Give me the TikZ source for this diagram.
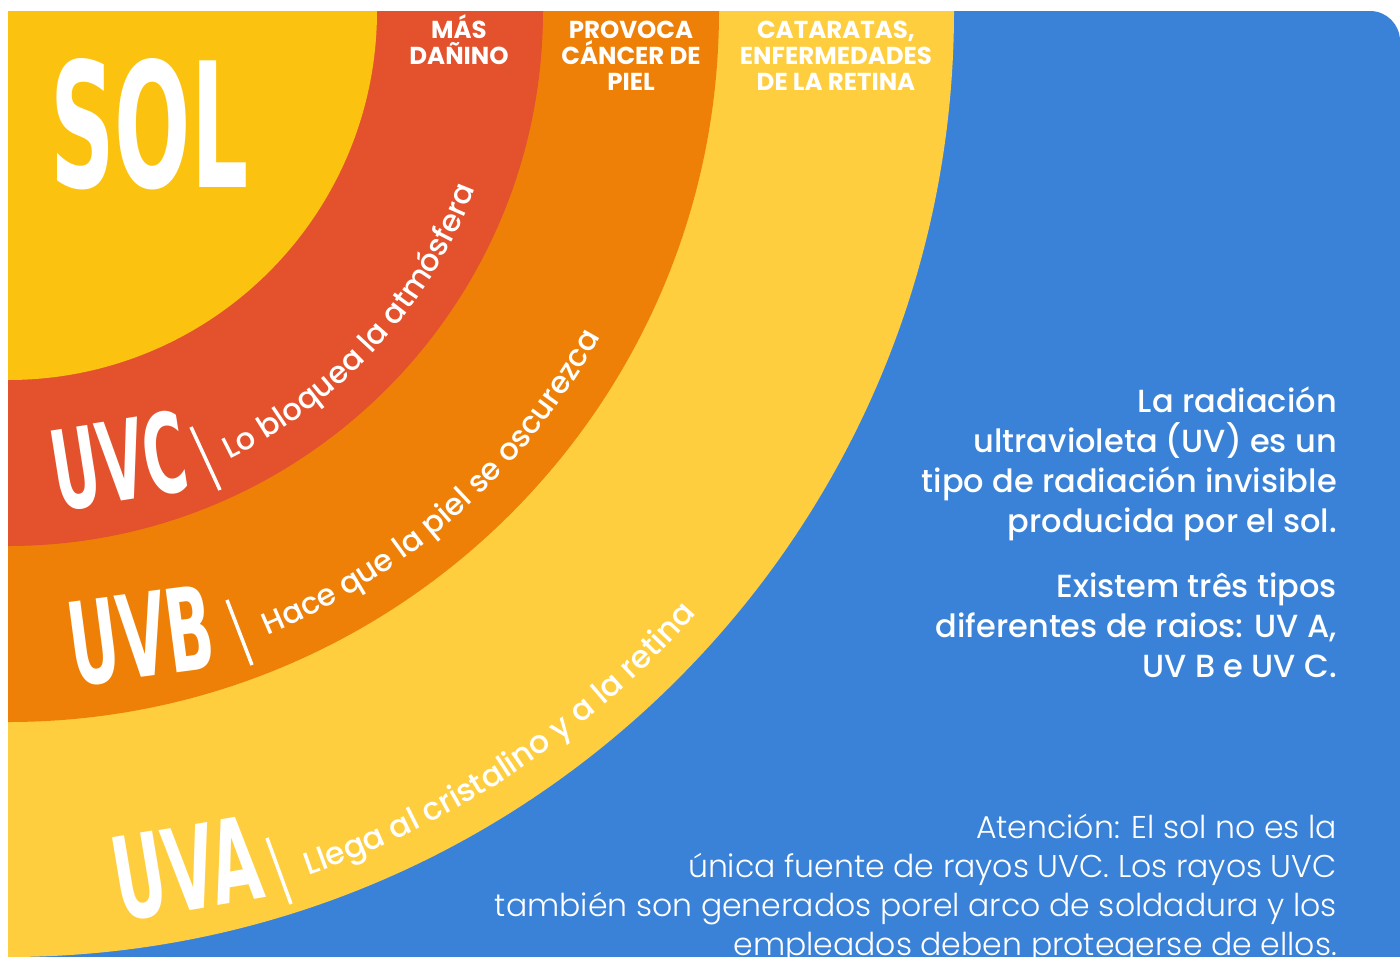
\documentclass[tikz,border=0pt]{standalone}
\usepackage{fontspec}
\usepackage{graphicx}
\usetikzlibrary{decorations.text}
\newfontfamily\popreg{Poppins}
\newfontfamily\popmed{Poppins Medium}
\newfontfamily\poplight{Poppins Light}
\newfontfamily\popbold{Poppins Bold}
\newfontfamily\heavyfont{DejaVu Sans}
\definecolor{sunY}{HTML}{FBC30F}
\definecolor{uvcR}{HTML}{E3512D}
\definecolor{uvbO}{HTML}{EE8008}
\definecolor{uvaY}{HTML}{FECE3F}
\definecolor{bgB}{HTML}{3A82D8}
\newcommand\curvefontA{\popmed\fontsize{30.5}{30.5}\selectfont}
\newcommand\curvefontB{\popmed\fontsize{31.5}{31.5}\selectfont}
\tikzset{
  toplabel/.style={white, inner sep=0pt, anchor=base, align=center, font=\popbold\fontsize{24.5}{26}\selectfont},
  infotext/.style={white, inner sep=0pt, anchor=base east, align=right, font=\popmed\fontsize{32}{40}\selectfont},
  notetext/.style={white, inner sep=0pt, anchor=base east, align=right, font=\poplight\fontsize{31.5}{39}\selectfont},
  biglabel/.style={white, inner sep=0pt, font=\heavyfont\bfseries},
  sepline/.style={white, line width=3.5pt},
  arctext/.style={decorate, decoration={text along path, text color=white, text align=left}}
}
\begin{document}
\begin{tikzpicture}[x=1pt,y=1pt]
\useasboundingbox (0,0) rectangle (1400,-956);
\clip (0,0) rectangle (1400,-956);
\coordinate (O) at (8,-11);
% blue panel
\fill[bgB] (8,-11) -- (1370,-11) arc[start angle=90,end angle=0,radius=30] -- (1400,-990) -- (8,-990) -- cycle;
% rings
\begin{scope}
\clip (8,-11) rectangle (1400,-990);
\fill[uvaY] (O) circle[radius=946];
\fill[uvbO] (O) circle[radius=711];
\fill[uvcR] (O) circle[radius=535];
\fill[sunY] (O) circle[radius=369];
\end{scope}
% SOL
\node[biglabel, anchor=north west] (sol) at (50,-58) {\resizebox{198pt}{129pt}{SOL}};
% UV labels
\node[biglabel, rotate=9] (uvc) at (119,-461) {\resizebox{136pt}{82pt}{UVC}};
\node[biglabel, rotate=7.5] (uvb) at (141,-636) {\resizebox{145pt}{84pt}{UVB}};
\node[biglabel, rotate=9.5] (uva) at (187,-869) {\resizebox{148pt}{84pt}{UVA}};
% separators
\draw[sepline] (191,-427) -- (220,-490);
\draw[sepline] (227,-600) -- (252,-665);
\draw[sepline] (267,-838) -- (291,-904);
% curved texts
\path[arctext, decoration={text={|\curvefontA|Lo bloquea la atmósfera}}]
  ([shift={(O)}]-63.7:500) arc[start angle=-63.7, end angle=-3, radius=500];
\path[arctext, decoration={text={|\curvefontA|Hace que la piel se oscurezca}}]
  ([shift={(O)}]-67.4:676) arc[start angle=-67.4, end angle=-3, radius=676];
\path[arctext, decoration={text={|\curvefontB|Llega al cristalino y a la retina}}]
  ([shift={(O)}]-70.8:915) arc[start angle=-70.8, end angle=-3, radius=915];
% top labels (anchored at the baseline of the last line)
\node[toplabel] (mas) at (459,-64) {MÁS\\DAÑINO};
\node[toplabel] (provoca) at (631,-90) {PROVOCA\\CÁNCER DE\\PIEL};
\node[toplabel] (cataratas) at (836,-90) {CATARATAS,\\ENFERMEDADES\\DE LA RETINA};
% right text
\node[infotext] (info1) at (1337,-532) {La radiación\\ultravioleta (UV) es un\\tipo de radiación invisible\\producida por el sol.};
\node[infotext] (info2) at (1337,-677) {Existem três tipos\\diferentes de raios: UV A,\\UV B e UV C.};
\node[notetext] (note) at (1337,-955) {Atención: El sol no es la\\única fuente de rayos UVC. Los rayos UVC\\también son generados porel arco de soldadura y los\\empleados deben protegerse de ellos.};
\end{tikzpicture}
\end{document}
